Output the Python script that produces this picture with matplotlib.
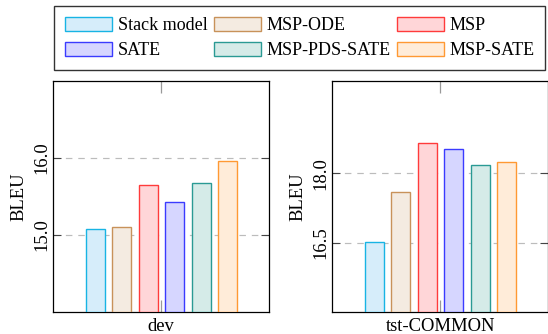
import matplotlib
matplotlib.use("Agg")
import matplotlib.pyplot as plt
import numpy as np

plt.rcParams["font.family"] = ["Liberation Serif", "DejaVu Serif"]
plt.rcParams["font.size"] = 13.4

models = ["Stack model", "MSP-ODE", "MSP", "SATE", "MSP-PDS-SATE", "MSP-SATE"]
edge_colors = ["#18b4e4", "#c8925a", "#ff3b3b", "#3b3bff", "#2a9a94", "#ff9933"]
fill_colors = ["#d6edfa", "#f4ebe1", "#ffd6d8", "#d6d6ff", "#d5ebe8", "#ffecd9"]

dev_bleu = [15.08, 15.11, 15.65, 15.43, 15.67, 15.96]
tst_bleu = [16.51, 17.59, 18.66, 18.53, 18.19, 18.25]

panels = [
    ("dev", dev_bleu, (14, 17), [15.0, 16.0]),
    ("tst-COMMON", tst_bleu, (15, 20), [16.5, 18.0]),
]

W, H = 548, 334
fig = plt.figure(figsize=(W / 100, H / 100), dpi=100)

ax_w = 216 / W
ax_h = (312 - 81) / H
ax_bottom = 1 - 312 / H
lefts = [53.3 / W, 332.3 / W]

offsets = np.arange(6) - 2.5
half = 108 / 26.5

for (name, values, ylim, yticks), left in zip(panels, lefts):
    ax = fig.add_axes([left, ax_bottom, ax_w, ax_h])
    for i, v in enumerate(values):
        ax.bar(offsets[i], v - ylim[0], bottom=ylim[0], width=0.72,
               color=fill_colors[i], edgecolor=edge_colors[i], linewidth=1.0,
               label=models[i], zorder=3)
    ax.set_xlim(-half, half)
    ax.set_ylim(*ylim)
    ax.set_yticks(yticks)
    ax.set_yticklabels(["%.1f" % t for t in yticks], rotation=90, va="center")
    ax.set_xticks([0])
    ax.set_xticklabels([name])
    ax.set_ylabel("BLEU", labelpad=4.5)
    ax.grid(axis="y", color="#bcbcbc", linestyle=(0, (5.5, 5)), linewidth=0.85, zorder=0)
    ax.tick_params(axis="y", direction="in", left=True, right=True, length=6,
                   width=0.8, color="#444444", pad=2)
    ax.tick_params(axis="x", direction="in", bottom=True, top=True, length=8.5,
                   width=0.9, color="#999999", pad=4.5)
    for s in ax.spines.values():
        s.set_linewidth(0.9)
        s.set_color("black")
    if left == lefts[0]:
        handles, labels = ax.get_legend_handles_labels()

# legend fills row by row in the reference
order = [0, 3, 1, 4, 2, 5]
handles = [handles[i] for i in order]
labels = [labels[i] for i in order]

leg = fig.legend(handles, labels, loc="upper left",
                 bbox_to_anchor=(54 / W, 1 - 6 / H), ncol=3,
                 fontsize=13.0, frameon=True, fancybox=False,
                 handlelength=2.6, handleheight=0.85, handletextpad=0.32,
                 columnspacing=0.35, labelspacing=0.42, borderpad=0.6,
                 borderaxespad=0)
leg.get_frame().set_edgecolor("black")
leg.get_frame().set_linewidth(1.0)

fig.savefig("out.png", dpi=100)
